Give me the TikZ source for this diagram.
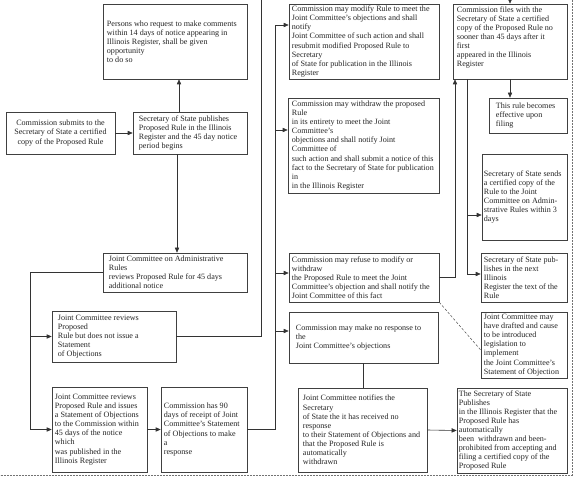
\documentclass[tikz,border=0pt]{standalone}
\usepackage{fontspec}
\setmainfont{Liberation Serif}
\usetikzlibrary{arrows.meta,fit,calc}
\tikzset{
  boxline/.style={draw=black!75, line width=0.6pt, inner sep=0pt},
  txt/.style={inner sep=0pt, align=left, font=\fontsize{8.1}{9.1}\selectfont, text=black!85},
  conn/.style={draw=black!80, line width=0.6pt},
  arr/.style={conn, -{Triangle[length=5pt,width=4.2pt]}},
  frame/.style={draw=black!55, line width=0.5pt, dash pattern=on 1.6pt off 1.4pt},
  dashconn/.style={draw=black!70, line width=0.5pt, dash pattern=on 2.5pt off 1.8pt}
}
% \bx{name}{x1}{y1}{x2}{y2}{pad}{yoff}{text}
\newcommand\bx[8]{%
  \coordinate (#1-nw) at (#2,#3);
  \coordinate (#1-se) at (#4,#5);
  \node[boxline, fit=(#1-nw)(#1-se)] (#1) {};
  \node[txt, anchor=west] (#1-t) at ($(#1.west)+(#6,#7)$) {#8};
}
\begin{document}
\begin{tikzpicture}[x=1pt,y=-1pt]
\useasboundingbox (0,0) rectangle (575,478);
\fill[white] (0,0) rectangle (575,478);

\bx{b1}{103}{4}{247}{79}{4}{0}{Persons who request to make comments\\within 14 days of notice appearing in\\Illinois Register, shall be given\\opportunity\\to do so}
\coordinate (b2-nw) at (6,112);
\coordinate (b2-se) at (115,154);
\node[boxline, fit=(b2-nw)(b2-se)] (b2) {};
\node[txt, align=center] (b2-t) at (b2.center) {Commission submits to the\\Secretary of State a certified\\copy of the Proposed Rule};
\bx{b3}{133}{112}{247}{154}{6}{0}{Secretary of State publishes\\Proposed Rule in the Illinois\\Register and the 45 day notice\\period begins}
\bx{b4}{103}{253}{247}{292}{6}{0}{Joint Committee on Administrative\\Rules\\reviews Proposed Rule for 45 days\\additional notice}
\bx{b5}{52}{311}{176}{362}{6}{0}{Joint Committee reviews\\Proposed\\Rule but does not issue a\\Statement\\of Objections}
\bx{b6}{52}{387}{147}{472}{3}{0}{Joint Committee reviews\\Proposed Rule and issues\\a Statement of Objections\\to the Commission within\\45 days of the notice\\which\\was published in the\\Illinois Register}
\bx{b7}{161}{387}{247}{472}{3}{0}{Commission has 90\\days of receipt of Joint\\Committee's Statement\\of Objections to make\\a\\response}
\bx{b8}{289}{4}{439}{79}{3}{0}{Commission may modify Rule to meet the\\Joint Committee's objections and shall\\notify\\Joint Committee of such action and shall\\resubmit modified Proposed Rule to\\Secretary\\of State for publication in the Illinois\\Register}
\bx{b9}{288}{98}{439}{193}{4}{0}{Commission may withdraw the proposed\\Rule\\in its entirety to meet the Joint\\Committee's\\objections and shall notify Joint\\Committee of\\such action and shall submit a notice of this\\fact to the Secretary of State for publication\\in\\in the Illinois Register}
\bx{b10}{453}{4}{567}{79}{4}{-4}{Commission files with the\\Secretary of State a certified\\copy of the Proposed Rule no\\sooner than 45 days after it\\first\\appeared in the Illinois\\Register}
\bx{b11}{489}{98}{567}{133}{7}{0}{This rule becomes\\effective upon\\filing}
\bx{b12}{482}{154}{567}{240}{2}{0}{Secretary of State sends\\a certified copy of the\\Rule to the Joint\\Committee on Admin-\\strative Rules within 3\\days}
\bx{b13}{481}{253}{567}{302}{3}{0}{Secretary of State pub-\\lishes in the next\\Illinois\\Register the text of the\\Rule}
\bx{b14}{481}{312}{567}{378}{3}{0}{Joint Committee may\\have drafted and cause\\to be introduced\\legislation to\\implement\\the Joint Committee's\\Statement of Objection}
\bx{b15}{289}{253}{439}{302}{3}{0}{Commission may refuse to modify or\\withdraw\\the Proposed Rule to meet the Joint\\Committee's objection and shall notify the\\Joint Committee of this fact}
\bx{b16}{289}{312}{438}{363}{7}{0}{Commission may make no response to\\the\\Joint Committee's objections}
\bx{b17}{298}{388}{427}{472}{5}{0}{Joint Committee notifies the\\Secretary\\of State the it has received no\\response\\to their Statement of Objections and\\that the Proposed Rule is\\automatically\\withdrawn}
\bx{b18}{457}{388}{567}{473}{2}{0}{The Secretary of State\\Publishes\\in the Illinois Register that the\\Proposed Rule has\\automatically\\been\ \ withdrawn and been-\\prohibited from accepting and\\filing a certified copy of the\\Proposed Rule}

% helper coordinates
\coordinate (x179) at (179,0);
\coordinate (x177) at (177,0);
\coordinate (x30) at (30,0);
\coordinate (top) at (261,-8);
\coordinate (x455) at (455,0);
\coordinate (j8) at (275,25);
\coordinate (j9) at (275,130);
\coordinate (j15) at (275,273);
\coordinate (j16) at (275,331);
\coordinate (m12) at (467,215);
\coordinate (m13) at (467,274);
\coordinate (x467) at (467,0);

% connectors
\draw[arr] (b2.east) -- (b3.west);
\draw[arr] (b3.north -| x179) -- (b1.south -| x179);
\draw[arr] (b3.south -| x177) -- (b4.north -| x177);
\draw[arr] (b4.west) -| (b6.west -| x30) -- (b6.west);
\draw[arr] (b5.west -| x30) -- (b5.west);
\draw[arr] (b5.east) -| (top) -| (b10.north);
\draw[arr] (b6.east) -- (b7.west);
\draw[conn] (b7.east) -| (j8);
\draw[arr] (j8) -- (j8 -| b8.west);
\draw[arr] (j9) -- (j9 -| b9.west);
\draw[arr] (j15) -- (j15 -| b15.west);
\draw[arr] (j16) -- (j16 -| b16.west);
\draw[arr] (b15.east) -| (x455 |- b10.south);
\draw[arr] (b10.south) -- (b10.south |- b11.north);
\draw[conn] (x467 |- b10.south) -- (m13);
\draw[arr] (m12) -- (m12 -| b12.west);
\draw[arr] (m13) -- (m13 -| b13.west);
\draw[dashconn] (b15.south east) -- ($(b14.west)+(0,5)$);
\draw[conn] (b16.south) -- (b16.south |- b17.north);
\draw[arr] (b17.east) -- (b18.west);

% dashed frame
\draw[frame] (572,0) -- (572,475) -- (0,475);
\end{tikzpicture}
\end{document}
